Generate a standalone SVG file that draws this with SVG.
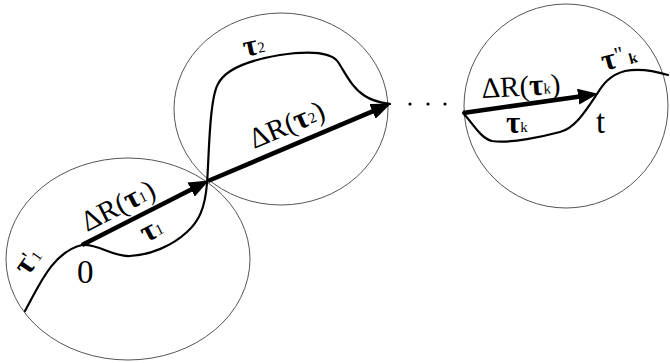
<svg xmlns="http://www.w3.org/2000/svg" width="670" height="363" viewBox="0 0 670 363">
<style>
.region{fill:none;stroke:#555;stroke-width:1}
.path{fill:none;stroke:#000;stroke-width:2.2;stroke-linecap:round}
.vec{fill:none;stroke:#000;stroke-width:4.5;stroke-linecap:butt}
text{font-family:"Liberation Serif","Times New Roman",serif;fill:#000}
.lbl{font-size:29px}
.big{font-size:33px}
.tau{font-weight:bold;font-size:31px}
.sub{font-size:15px}
</style>
<defs>
<marker id="ah" viewBox="0 0 20 16" refX="9" refY="8" markerWidth="20" markerHeight="16" orient="auto" markerUnits="userSpaceOnUse">
<path d="M0,0 L20,8 L0,16 Z" fill="#000"/>
</marker>
</defs>
<g id="region1"><ellipse class="region" cx="128" cy="259" rx="122" ry="101"/></g>
<g id="region2"><ellipse class="region" cx="281" cy="109" rx="107" ry="96"/></g>
<g id="regionk"><ellipse class="region" cx="566" cy="106" rx="102" ry="102"/></g>
<g id="connectors">
<path class="path" d="M25,311 C38,288 52,252 82,245"/>
<path class="path" d="M82,245 C100,244 112,257 130,256 C150,255 172,246 187,232 C198,222 205,210 207,183 C209,160 209,100 218,84 C226,68 250,60 280,55 C300,52 330,50 338,62 C346,74 352,88 365,96 C374,102 384,103 390,104"/>
<path class="path" d="M463,113 C472,122 480,138 492,141 C510,144 545,136 560,132 C575,128 585,112 597,94 C603,84 610,75 625,71 C640,68 655,71 668,75"/>
<path class="vec" d="M82,245 L199.1,185.5" marker-end="url(#ah)"/>
<path class="vec" d="M208,181 L380.8,107.9" marker-end="url(#ah)"/>
<path class="vec" d="M463,113 L587.1,95.4" marker-end="url(#ah)"/>
<circle cx="410" cy="104" r="1.6" fill="#000"/>
<circle cx="428" cy="104" r="1.6" fill="#000"/>
<circle cx="445" cy="104" r="1.6" fill="#000"/>
</g>
<g id="labels">
<text class="lbl" transform="translate(87,232) rotate(-27)">ΔR(<tspan class="tau">τ</tspan><tspan class="sub" dy="-1">1</tspan><tspan dy="1">)</tspan></text>
<text class="lbl" transform="translate(254,149) rotate(-23)">ΔR(<tspan class="tau">τ</tspan><tspan class="sub" dy="-1">2</tspan><tspan dy="1">)</tspan></text>
<text class="lbl" transform="translate(482,98) rotate(-3)">ΔR(<tspan class="tau">τ</tspan><tspan class="sub" dy="-1">k</tspan><tspan dy="1">)</tspan></text>
<text class="lbl" transform="translate(146,243) rotate(-27)"><tspan class="tau">τ</tspan><tspan class="sub" dy="-1">1</tspan></text>
<text class="lbl" transform="translate(245,57) rotate(-12)"><tspan class="tau">τ</tspan><tspan class="sub" dy="-1">2</tspan></text>
<text class="lbl" x="506" y="133"><tspan class="tau">τ</tspan><tspan class="sub" dy="-1">k</tspan></text>
<text class="lbl" transform="translate(604,71) rotate(-15)"><tspan class="tau" font-size="33">τ</tspan><tspan dy="-5" font-size="22">"</tspan><tspan class="sub" dx="4" dy="5" font-weight="bold">k</tspan></text>
<text class="lbl" transform="translate(28,277) rotate(-55)"><tspan class="tau" font-size="34">τ</tspan><tspan dy="-4" font-size="22">'</tspan><tspan class="sub" dy="4">1</tspan></text>
<text class="big" x="77" y="283">0</text>
<text class="big" x="596" y="133">t</text>
</g>
</svg>
